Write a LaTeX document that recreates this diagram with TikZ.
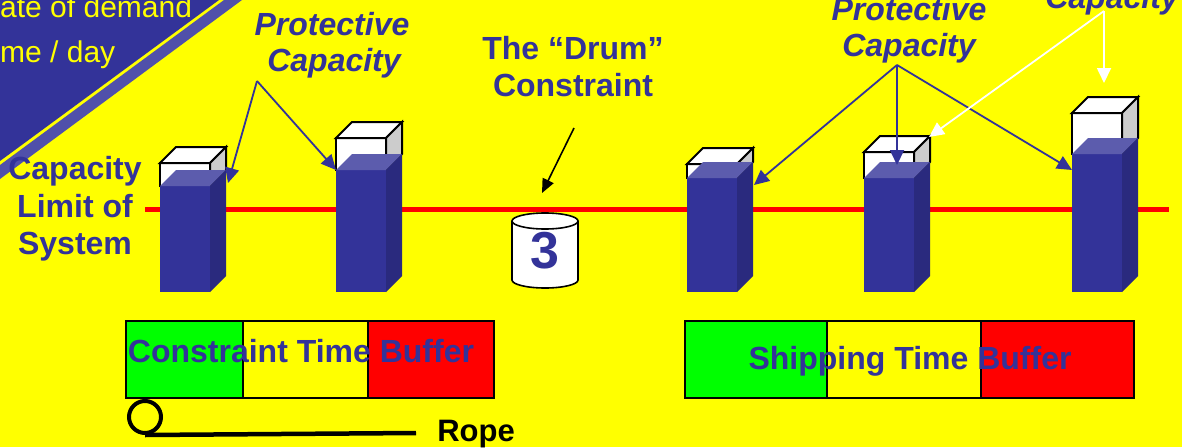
\documentclass[tikz,border=0pt]{standalone}
\usepackage{fontspec}
\setmainfont{Liberation Sans}
\usetikzlibrary{arrows.meta}
\definecolor{bg}{HTML}{FFFF00}
\definecolor{navy}{HTML}{333399}
\definecolor{navytop}{HTML}{5C5CAD}
\definecolor{navyside}{HTML}{2A2A7E}
\definecolor{stripe}{HTML}{5050AA}
\definecolor{sidegray}{HTML}{CCCCCC}
\definecolor{bufgreen}{HTML}{00FF00}
\definecolor{bufred}{HTML}{FF0000}

% 3-D capacity bar: #1 left x of front face, #2 top of the blue load, #3 top of the white capacity
\newcommand\capbar[3]{%
  \filldraw[boxline,fill=white] (#1,#3) rectangle (#1+50,#2);
  \filldraw[boxline,fill=white] (#1,#3) -- (#1+16,#3-16) -- (#1+66,#3-16) -- (#1+50,#3) -- cycle;
  \filldraw[boxline,fill=sidegray] (#1+50,#3) -- (#1+66,#3-16) -- (#1+66,#2-16) -- (#1+50,#2) -- cycle;
  \fill[navy] (#1,#2) rectangle (#1+50,292);
  \fill[navytop] (#1,#2) -- (#1+16,#2-16) -- (#1+66,#2-16) -- (#1+50,#2) -- cycle;
  \fill[navyside] (#1+50,#2) -- (#1+66,#2-16) -- (#1+66,276) -- (#1+50,292) -- cycle;
}

\tikzset{
  boxline/.style={draw=black,line width=2pt,line join=miter},
  lbl/.style={inner sep=0pt,anchor=base,text=navy,font=\bfseries\fontsize{32}{38}\selectfont},
  ilbl/.style={lbl,font=\bfseries\itshape\fontsize{32}{38}\selectfont},
  tri/.style={inner sep=0pt,anchor=base west,text=bg,font=\fontsize{30}{36}\selectfont},
  parrow/.style={draw=navy,line width=1.8pt,-{Triangle[length=15pt,width=14pt]}},
  warrow/.style={draw=white,line width=1.8pt,-{Triangle[length=15pt,width=14pt]}},
  bufbox/.style={draw=black,line width=2pt},
}

\begin{document}
\begin{tikzpicture}[x=1pt,y=-1pt]
\useasboundingbox (0,0) rectangle (1182,447);
\clip (0,0) rectangle (1182,447);
\fill[bg] (0,0) rectangle (1182,447);

% title corner
\fill[navy] (0,0) -- (219,0) -- (0,161) -- cycle;
\fill[stripe] (0,165) -- (224,0) -- (242,0) -- (0,179) -- cycle;
\node[tri] (rate) at (0,17) {ate of demand};
\node[tri] (perday) at (0,62) {me / day};

% capacity limit of the system
\draw[bufred,line width=5pt] (145,209) -- (1169,209);

% resources
\capbar{160}{186}{163}
\capbar{336}{170}{138}
\capbar{687}{178}{164}
\capbar{864}{178}{152}
\capbar{1072}{154}{113}

% drum
\filldraw[fill=white,draw=black,line width=1.6pt]
  (512,221) -- (512,280) arc[start angle=180,end angle=360,x radius=33pt,y radius=8pt] -- (578,221);
\filldraw[fill=white,draw=black,line width=1.6pt] (545,221) ellipse [x radius=33pt,y radius=8pt];
\node[inner sep=0pt,text=navy,font=\bfseries\fontsize{52}{52}\selectfont] (drum) at (545,251) {3};

% labels
\node[ilbl] (pcA1) at (332,35) {Protective};
\node[ilbl] (pcA2) at (334,71) {Capacity};
\node[ilbl] (pcB1) at (909,20) {Protective};
\node[ilbl] (pcB2) at (909,56) {Capacity};
\node[ilbl] (exc) at (1112,9) {Capacity};
\node[lbl] (dr1) at (573,59) {The “Drum”};
\node[lbl] (dr2) at (573,96) {Constraint};
\node[lbl] (lim1) at (75,179) {Capacity};
\node[lbl] (lim2) at (75,217) {Limit of};
\node[lbl] (lim3) at (75,254) {System};

% connector ends
\coordinate (apA) at (257,81);
\coordinate (apB) at (897,65);
\coordinate (apC) at (1104,11);
\coordinate (t1) at (228,183);
\coordinate (t2) at (336,170);
\coordinate (t3) at (754,185);
\coordinate (t4) at (897,165);
\coordinate (t5) at (1072,170);
\coordinate (w4) at (929,137);
\coordinate (w5) at (1104,83);
\coordinate (drumtail) at (574,128);
\coordinate (drumhead) at (542,193);

\draw[parrow] (apA) -- (t1);
\draw[parrow] (apA) -- (t2);
\draw[parrow] (apB) -- (t3);
\draw[parrow] (apB) -- (t4);
\draw[parrow] (apB) -- (t5);
\draw[warrow] (apC) -- (w4);
\draw[warrow] (apC) -- (w5);
\draw[black,line width=1.6pt,-{Triangle[length=14pt,width=12pt]}] (drumtail) -- (drumhead);

% constraint time buffer
\fill[bufgreen] (126,321) rectangle (243,398);
\fill[bufred] (368,321) rectangle (494,398);
\draw[bufbox] (126,321) rectangle (494,398) (243,321) -- (243,398) (368,321) -- (368,398);
\node[lbl] (ctb) at (301,362) {Constraint Time Buffer};

% shipping time buffer
\fill[bufgreen] (685,321) rectangle (827,398);
\fill[bufred] (981,321) rectangle (1134,398);
\draw[bufbox] (685,321) rectangle (1134,398) (827,321) -- (827,398) (981,321) -- (981,398);
\node[lbl] (stb) at (910,369) {Shipping Time Buffer};

% rope
\node[circle,draw=black,line width=4pt,minimum size=32pt,inner sep=0pt] (ring) at (145,417) {};
\coordinate (ropeend) at (416,433);
\draw[black,line width=4.5pt] (ring.south) -- (ropeend);
\node[inner sep=0pt,anchor=base,font=\bfseries\fontsize{31}{36}\selectfont] (rope) at (476,441) {Rope};
\end{tikzpicture}
\end{document}
